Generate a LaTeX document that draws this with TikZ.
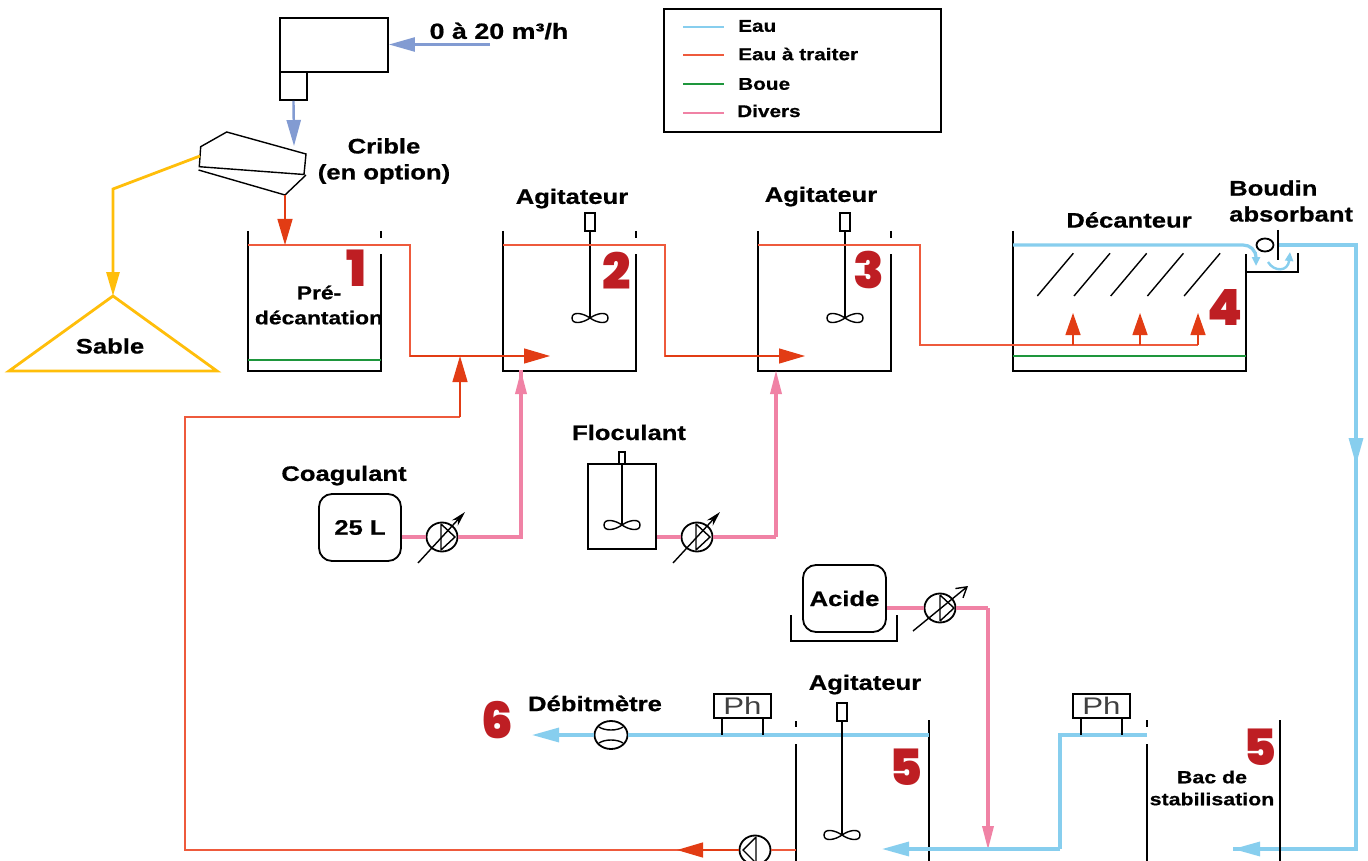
\documentclass[tikz,border=0pt]{standalone}
\usepackage{fontspec}
\setmainfont{Liberation Sans}
\newfontfamily\lbl[FakeStretch=1.22,FakeBold=0.7]{Liberation Sans Bold}
\newfontfamily\numf{Poppins Black}
\newfontfamily\phf[FakeStretch=1.3]{Liberation Sans}
\usetikzlibrary{arrows.meta,shapes.geometric}
\definecolor{eau}{RGB}{135,206,238}
\definecolor{rouge}{RGB}{226,60,20}
\definecolor{rougeL}{RGB}{238,90,60}
\definecolor{boue}{RGB}{30,150,60}
\definecolor{divers}{RGB}{240,130,165}
\definecolor{jaune}{RGB}{255,190,10}
\definecolor{bleuS}{RGB}{130,155,210}
\definecolor{rougeN}{RGB}{190,30,35}
\tikzset{
 x=1pt,y=-1pt,
 wall/.style={draw=black,line width=1.8pt},
 fine/.style={draw=black,line width=1.4pt},
 eauL/.style={draw=eau,line width=3.2pt},
 traiterL/.style={draw=rougeL,line width=1.3pt},
 boueL/.style={draw=boue,line width=1.3pt},
 diversL/.style={draw=divers,line width=3.4pt},
 jauneL/.style={draw=jaune,line width=2.8pt},
 bleuL/.style={draw=bleuS,line width=2.4pt},
 arrE/.style={-{Triangle[length=27pt,width=14pt,fill=eau]}},
 arrR/.style={-{Triangle[length=26pt,width=15pt,fill=rouge]}},
 arrD/.style={-{Triangle[length=24pt,width=11pt,fill=divers]}},
 arrJ/.style={-{Triangle[length=24pt,width=13pt,fill=jaune]}},
 arrB/.style={-{Triangle[length=26pt,width=14pt,fill=bleuS]}},
 lab/.style={font=\lbl\fontsize{21}{24}\selectfont,text=black,inner sep=0pt,align=center},
 leg/.style={font=\lbl\fontsize{17}{20}\selectfont,text=black,inner sep=0pt,anchor=west},
 small/.style={font=\lbl\fontsize{17.5}{22}\selectfont,text=black,inner sep=0pt,align=center},
 num/.style={font=\numf\fontsize{50}{50}\selectfont,text=rougeN,inner sep=0pt},
 pumpn/.style={ellipse,draw=black,line width=1.8pt,minimum width=31pt,minimum height=29pt,inner sep=0pt},
 meter/.style={ellipse,draw=black,line width=1.8pt,minimum width=33pt,minimum height=28pt,inner sep=0pt},
 phbox/.style={rectangle,draw=black,line width=1.5pt,minimum width=57pt,minimum height=24pt,inner sep=0pt,text=black!75,font=\phf\fontsize{24}{24}\selectfont},
 round/.style={rectangle,rounded corners=13pt,draw=black,line width=1.8pt,inner sep=0pt},
 plain/.style={rectangle,draw=black,line width=1.8pt,inner sep=0pt},
}
\newcommand{\impeller}[2]{%
 \draw[fine] (#1,#2) .. controls (#1+7,#2-5) and (#1+18,#2-7) .. (#1+18,#2) .. controls (#1+18,#2+7) and (#1+7,#2+5) .. (#1,#2)
  .. controls (#1-7,#2-5) and (#1-18,#2-7) .. (#1-18,#2) .. controls (#1-18,#2+7) and (#1-7,#2+5) .. (#1,#2);}
\newcommand{\pumpright}[2]{%
 \draw[fine] (#1,#2-13) -- (#1,#2+13) (#1,#2-13) -- (#1+14,#2) -- (#1,#2+13);}
\newcommand{\pumpleft}[2]{%
 \draw[fine] (#1,#2-13) -- (#1,#2+13) (#1,#2-13) -- (#1-13,#2) -- (#1,#2+13);}
\begin{document}
\begin{tikzpicture}
\useasboundingbox (0,0) rectangle (1368,861);
\fill[white] (0,0) rectangle (1368,861);

% ---------- legend
\node[plain,minimum width=277pt,minimum height=123pt] (legend) at (802.5,70.5) {};
\coordinate (l1a) at (683,27); \coordinate (l1b) at (724,27);
\coordinate (l2a) at (683,55); \coordinate (l2b) at (724,55);
\coordinate (l3a) at (683,84); \coordinate (l3b) at (724,84);
\coordinate (l4a) at (683,113); \coordinate (l4b) at (724,113);
\draw[draw=eau,line width=2pt] (l1a) -- (l1b);
\draw[traiterL] (l2a) -- (l2b);
\draw[boueL] (l3a) -- (l3b);
\draw[draw=divers,line width=2pt] (l4a) -- (l4b);
\node[leg] (t1) at (738,26) {Eau};
\node[leg] (t2) at (738,54) {Eau à traiter};
\node[leg] (t3) at (738,84) {Boue};
\node[leg] (t4) at (737,111) {Divers};

% ---------- feed and screen
\node[plain,minimum width=108pt,minimum height=54pt] (feed) at (334,45) {};
\node[plain,minimum width=27pt,minimum height=28pt] (feedb) at (293.5,86) {};
\node[lab,font=\lbl\fontsize{22}{24}\selectfont] (debit) at (499,31) {0 à 20 m³/h};
\coordinate (inflow) at (490,44.5);
\draw[bleuL,arrB] (inflow) -- (feed.east |- inflow);
\coordinate (cribTop) at (294,146);
\draw[bleuL,arrB] (feedb.south) -- (cribTop);
\draw[fine] (200.7,146.7) -- (226.7,132) -- (306,154) -- (304,174.5) -- (199.3,166.7) -- cycle;
\draw[fine] (198.5,170) -- (285,195) -- (306,175);
\coordinate (cribOut) at (285,195);
\coordinate (cribIn) at (285,245);
\coordinate (cribL) at (200,156);
\coordinate (sableK) at (113,189);
\node[lab] (crible) at (384,161) {Crible\\[2pt](en option)};
\node[lab] (sable) at (110,346) {Sable};
\coordinate (sableT) at (113,296);
\draw[jauneL] (sableT) -- (217,371) -- (9,371) -- cycle;
\draw[jauneL,arrJ] (cribL) -- (sableK) -- (sableT);

% ---------- tanks
\draw[wall] (248,231) -- (248,371) -- (381,371) -- (381,254);
\draw[wall] (381,231) -- (381,238);
\draw[wall] (503,231) -- (503,371) -- (636,371) -- (636,254);
\draw[wall] (636,231) -- (636,238);
\draw[wall] (758,231) -- (758,371) -- (891,371) -- (891,254);
\draw[wall] (891,231) -- (891,238);
\draw[wall] (1013,231) -- (1013,371) -- (1246,371) -- (1246,254);
\draw[wall] (1246,272) -- (1298,272) -- (1298,253);
\draw[wall] (1278,230) -- (1278,260);
\foreach \i in {0,1,2,3,4}{
 \draw[fine] (1037.3+36.7*\i,296) -- (1073.3+36.7*\i,253.3);
}

% agitators
\node[plain,minimum width=10pt,minimum height=18pt] (ag2) at (590,222) {};
\draw[wall] (ag2.south) -- (590,318);
\impeller{590}{318}
\node[plain,minimum width=10pt,minimum height=18pt] (ag3) at (845,222) {};
\draw[wall] (ag3.south) -- (845,318);
\impeller{845}{318}
\node[lab] (tAg2) at (572,198.5) {Agitateur};
\node[lab] (tAg3) at (821,196.5) {Agitateur};
\node[lab] (tDec) at (1129,220) {Décanteur};
\node[lab,align=left,anchor=west] (tBou) at (1229,201) {Boudin\\[2pt]absorbant};
\node[font=\lbl\fontsize{18.7}{23}\selectfont,inner sep=0pt,align=center] (tPre) at (319,305) {Pré-\\[2pt]décantation};

% process water
\draw[traiterL] (248,245) -- (410,245) -- (410,356) -- (520,356);
\draw[traiterL] (503,245) -- (665,245) -- (665,356) -- (780,356);
\draw[traiterL] (758,245) -- (920,245) -- (920,345) -- (1198,345);
\draw[rouge,line width=1.3pt,arrR] (410,356) -- (550,356);
\draw[rouge,line width=1.3pt,arrR] (665,356) -- (805,356);
\draw[rouge,line width=1.3pt,arrR] (cribOut) -- (cribIn);
\foreach \x in {1073,1140,1198}{
 \draw[rouge,line width=1.3pt,-{Triangle[length=22pt,width=15pt,fill=rouge]}] (\x,345) -- (\x,313);
}
\draw[boueL] (248,360) -- (381,360);
\draw[boueL] (1013,356) -- (1246,356);

% decanter overflow
\node[ellipse,draw=black,line width=1.8pt,minimum width=17pt,minimum height=13pt,inner sep=0pt] (bou) at (1265,245) {};
\draw[eauL] (1013,245) -- (1243,245) .. controls (1250,245) and (1256,250) .. (1256,258);
\draw[eau,line width=2.4pt,-{Triangle[length=9pt,width=8pt,fill=eau]}] (1256,252) -- (1256,266);
\draw[eau,line width=2.4pt,-{Triangle[length=9pt,width=8pt,fill=eau]}] (1268,262) .. controls (1274,272) and (1288,272) .. (1290,252);
\coordinate (ov1) at (1279,245);
\coordinate (ov2) at (1356,245);
\coordinate (ov3) at (1356,849);
\coordinate (ov4) at (1233,849);
\draw[eauL] (ov1) -- (ov2) -- (ov3) -- (ov4);
\draw[eauL,arrE] (ov2) -- (1356,465);
\draw[eauL,arrE] (ov3) -- (ov4);

% ---------- reagents
\node[round,minimum width=82pt,minimum height=67pt,font=\lbl\fontsize{21}{24}\selectfont] (coag) at (360,527.5) {25 L};
\node[lab] (tCoag) at (344,475.5) {Coagulant};
\node[pumpn] (p1) at (442,537) {};
\pumpright{441}{537}
\coordinate (c1) at (521,537); \coordinate (c1t) at (521,370);
\draw[diversL] (coag.east |- p1) -- (p1.west);
\draw[diversL] (p1.east) -- (c1) -- (c1t);
\draw[draw=divers,line width=3.4pt,arrD] (c1) -- (c1t);
\draw[fine,-{Stealth[length=15pt,width=8pt]}] (418,563) -- (465,512);

\node[plain,minimum width=68pt,minimum height=85pt] (floc) at (622,506.5) {};
\node[plain,minimum width=6pt,minimum height=12pt] (flocm) at (622,458) {};
\draw[wall] (flocm.south) -- (622,525);
\impeller{622}{525}
\node[lab] (tFloc) at (629,432.5) {Floculant};
\node[pumpn] (p2) at (697,537) {};
\pumpright{696}{537}
\coordinate (c2) at (776,537); \coordinate (c2t) at (776,370);
\draw[diversL] (floc.east |- p2) -- (p2.west);
\draw[diversL] (p2.east) -- (c2);
\draw[draw=divers,line width=3.4pt,arrD] (c2) -- (c2t);
\draw[fine,-{Stealth[length=15pt,width=8pt]}] (673,563) -- (720,512);

\node[round,minimum width=83pt,minimum height=67pt,font=\lbl\fontsize{21}{24}\selectfont] (acide) at (844.5,598.5) {\raisebox{-1.5pt}{Acide}};
\draw[wall] (791,615) -- (791,641) -- (897,641) -- (897,615);
\node[pumpn] (p3) at (940,608) {};
\pumpright{940}{608}
\coordinate (c3) at (988,608); \coordinate (c3t) at (988,850);
\draw[diversL] (acide.east |- p3) -- (p3.west);
\draw[diversL] (p3.east) -- (c3);
\draw[draw=divers,line width=3.4pt,arrD] (c3) -- (c3t);
\draw[fine,-{Straight Barb[length=10pt,width=12pt]}] (913,631) -- (968,586);

% ---------- bottom tanks
\draw[wall] (796,721) -- (796,727);
\draw[wall] (796,744) -- (796,861);
\draw[wall] (929,720) -- (929,861);
\draw[wall] (1147,720) -- (1147,727);
\draw[wall] (1147,744) -- (1147,861);
\draw[wall] (1280,720) -- (1280,861);

\node[meter] (fm) at (611,735) {};
\coordinate (o1) at (929,735);
\coordinate (o2) at (532,735);
\draw[eauL] (o1) -- (fm.east);
\draw[eauL,arrE] (fm.west) -- (o2);
\draw[fine] (599,727) .. controls (605,731) and (617,731) .. (623,727);
\draw[fine] (599,743) .. controls (605,739) and (617,739) .. (623,743);
\node[lab] (tDeb) at (595,703.5) {Débitmètre};

\node[phbox] (ph1) at (742.5,706) {Ph};
\draw[wall] (722,718) -- (722,735) (763,718) -- (763,735);
\node[plain,minimum width=10pt,minimum height=18pt] (ag5) at (842,712) {};
\draw[wall] (ag5.south) -- (842,835);
\impeller{842}{835}
\node[lab] (tAg5) at (865,684.5) {Agitateur};

\coordinate (b1) at (1147,735);
\coordinate (b2) at (1060,735);
\coordinate (b3) at (1060,849);
\coordinate (b4) at (882,849);
\draw[eauL] (b1) -- (b2) -- (b3);
\draw[eauL,arrE] (b3) -- (b4);
\node[phbox] (ph2) at (1101.5,706) {Ph};
\draw[wall] (1081,718) -- (1081,735) (1122,718) -- (1122,735);
\node[small] (tBac) at (1212,788) {Bac de\\stabilisation};

% recirculation
\node[pumpn] (p4) at (755,850) {};
\pumpleft{756}{850}
\coordinate (r0) at (796,850);
\coordinate (r1) at (677,850);
\coordinate (r2) at (185,850);
\coordinate (r3) at (185,417);
\coordinate (r4) at (460,417);
\coordinate (r5) at (460,356);
\draw[traiterL] (r0) -- (p4.east);
\draw[traiterL] (p4.west) -- (r1) -- (r2) -- (r3) -- (r4);
\draw[rouge,line width=1.3pt,arrR] (p4.west) -- (r1);
\draw[rouge,line width=1.3pt,arrR] (r4) -- (r5);

% ---------- numbers
\node[num] (n1) at (356,268) {1};
\node[num] (n2) at (617,271) {2};
\node[num] (n3) at (869,270) {3};
\node[num] (n4) at (1225,307) {4};
\node[num] (n5) at (906,767) {5};
\node[num] (n5b) at (1260,747) {5};
\node[num] (n6) at (497,720) {6};
\end{tikzpicture}
\end{document}
